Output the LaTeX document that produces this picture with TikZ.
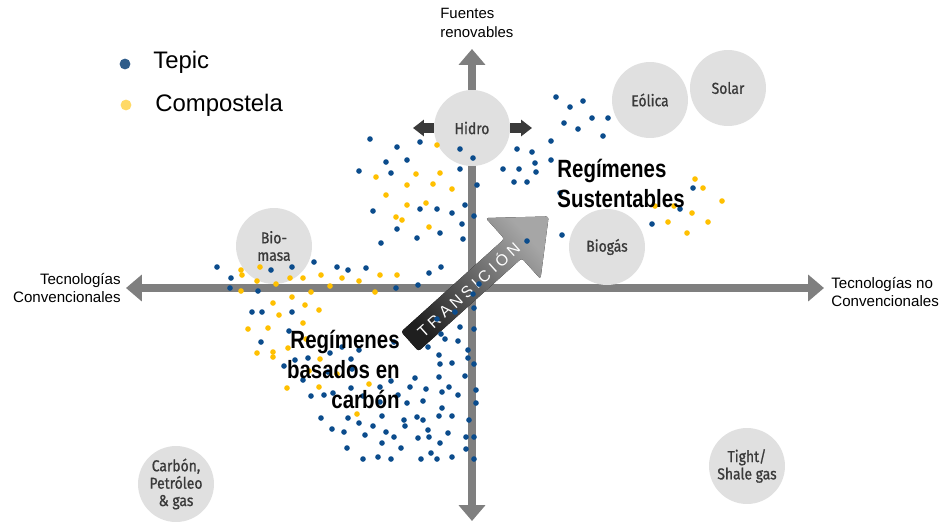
\documentclass[tikz,border=0pt]{standalone}
\usepackage{fontspec}
\setmainfont{Liberation Sans}
\newfontfamily\narrowfont[FakeStretch=0.82]{Liberation Sans}
\newfontfamily\bubblefont[FakeStretch=0.88,FakeBold=0.9]{Fira Sans}
\usetikzlibrary{arrows.meta,positioning}
\definecolor{axisgray}{HTML}{7F7F7F}
\definecolor{bubblegray}{HTML}{E0E0E0}
\definecolor{tepicblue}{HTML}{0B4C8C}
\definecolor{compoyellow}{HTML}{FFC000}
\definecolor{legendblue}{HTML}{2E5C8A}
\definecolor{legendyellow}{HTML}{FFD966}
\definecolor{labelgray}{HTML}{3A3A3A}
\tikzset{
  axis/.style={line width=4.8pt,draw=axisgray,>={Triangle[length=9pt,width=14.7pt]},<->},
  bubble/.style={circle,fill=bubblegray,minimum size=1.52cm,inner sep=0pt,align=center,
    text=labelgray,font=\bubblefont\fontsize{9}{9.9}\selectfont},
  hidroarrow/.style={line width=5.7pt,draw=labelgray,-{Triangle[length=6.2pt,width=9.1pt]}},
  transarrow/.style={top color=black!35,bottom color=black!88,shading angle=-48,rounded corners=1.5pt},
  regime/.style={inner sep=0pt,font=\narrowfont\bfseries\fontsize{14.2}{17}\selectfont},
  axislabel/.style={inner sep=0pt,font=\fontsize{8.6}{9.7}\selectfont},
}
\begin{document}
\begin{tikzpicture}[x=0.02cm,y=-0.02cm]
\useasboundingbox (0,0) rectangle (941,522);
% axes
\coordinate (axistop) at (472,49);
\coordinate (axisbottom) at (472,521);
\coordinate (axisleft) at (126,288);
\coordinate (axisright) at (824,288);
\draw[axis] (axisbottom) -- (axistop);
\draw[axis] (axisleft) -- (axisright);
\node[anchor=base west,align=left,inner sep=0pt,font=\fontsize{8.5}{10.8}\selectfont] (renovables) at (440,37) {Fuentes\\renovables};
\node[axislabel,anchor=base east,align=right] (convencional) at (121,302) {Tecnologías\\Convencionales};
\node[axislabel,anchor=base west,align=left] (noconvencional) at (831,306) {Tecnologías no\\Convencionales};
% energy sources
\node[bubble] (hidro) at (472,128) {Hidro};
\node[bubble] (eolica) at (650,100) {Eólica};
\node[bubble] (solar) at (728,88) {Solar};
\node[bubble] (biogas) at (607,247) {Biogás};
\node[bubble] (biomasa) at (274,246) {Bio-\\masa};
\node[bubble] (fosil) at (176,484) {Carbón,\\Petróleo\\\& gas};
\node[bubble] (shale) at (747,466) {Tight/\\Shale gas};
\coordinate (hidroL) at (413,128);
\coordinate (hidroR) at (532,128);
\draw[hidroarrow] (hidro.west) -- (hidroL);
\draw[hidroarrow] (hidro.east) -- (hidroR);
% transition arrow
\fill[transarrow] (401.1,331.8) -- (418.5,351.2) -- (521.8,258.2) -- (540.5,279.0)
  -- (548.7,216.4) -- (485.7,218.0) -- (504.4,238.8) -- cycle;
\node[rotate=42,text=white,inner sep=0pt,font=\fontsize{9}{9}\selectfont\addfontfeature{LetterSpace=24}] (transicion) at (468,289) {TRANSICIÓN};
% Tepic
\foreach \x/\y in {370/139,397/147,420/142,460/149,473/158,386/162,407/160,359/171,391/173,460/169,
  477/185,373/211,420/209,437/209,452/213,465/205,474/216,462/224,397/229,440/233,417/238,463/239,
  556/97,570/107,583/101,564/123,578/129,592/118,608/118,603/136,551/141,517/149,532/152,535/163,
  551/160,503/169,519/169,536/172,514/182,527/182,560/193,562/235,527/241,693/188,680/209,652/224,
  381/243,217/267,271/270,292/267,314/262,337/267,348/270,366/268,429/273,441/267,231/278,230/288,
  258/291,396/288,418/285,252/312,262/312,292/312,289/331,261/342,342/347,330/353,359/350,284/366,
  295/360,308/358,328/372,351/359,352/369,303/380,311/396,324/395,333/393,351/388,363/396,321/418,
  348/418,359/423,373/426,332/429,344/432,365/435,347/448,363/459,378/457,437/319,455/312,460/327,
  474/329,474/308,473/294,479/284,380/387,380/402,
  394/342,441/334,445/339,458/341,428/347,468/350,439/355,468/358,440/364,452/363,474/364,415/378,
  439/377,465/376,391/381,410/387,426/389,449/387,442/392,458/395,476/390,398/395,423/401,407/403,
  442/408,476/403,382/416,417/417,423/420,439/416,452/416,469/420,404/420,405/426,428/430,386/432,
  394/437,418/438,429/437,448/433,466/437,474/437,440/443,401/448,431/453,466/449,391/459,421/459,
  437/459,452/457,474/459,382/443}
  \fill[tepicblue] (\x,\y) circle[radius=1.6pt];
% Compostela
\foreach \x/\y in {437/145,376/177,416/174,440/173,407/185,433/184,452/189,386/195,407/205,426/203,
  396/217,402/220,429/227,
  695/179,703/188,722/201,655/206,674/206,692/213,668/222,708/222,687/233,
  241/270,242/275,260/267,290/278,303/278,321/275,342/278,359/281,380/275,397/275,257/281,276/284,
  241/291,311/292,330/286,375/292,273/303,292/297,305/305,319/310,279/315,248/329,268/328,303/323,
  306/339,288/348,257/353,273/352,273/357,320/359,337/374,309/371,287/388,319/387,369/384,357/414}
  \fill[compoyellow] (\x,\y) circle[radius=1.6pt];
% regimes
\node[regime,anchor=base west,align=left] (sustentable) at (557,207) {Regímenes\\Sustentables};
\node[regime,anchor=base east,align=right] (carbono) at (400,408) {Regímenes\\basados en\\carbón};
% legend
\fill[legendblue] (125,64) circle[radius=3.1pt];
\fill[legendyellow] (126,105) circle[radius=3.1pt];
\node[anchor=base west,inner sep=0pt,font=\fontsize{13.6}{15}\selectfont] (tepic) at (153,68) {Tepic};
\node[anchor=base west,inner sep=0pt,font=\fontsize{13.6}{15}\selectfont] (compostela) at (155,111) {Compostela};
\end{tikzpicture}
\end{document}
